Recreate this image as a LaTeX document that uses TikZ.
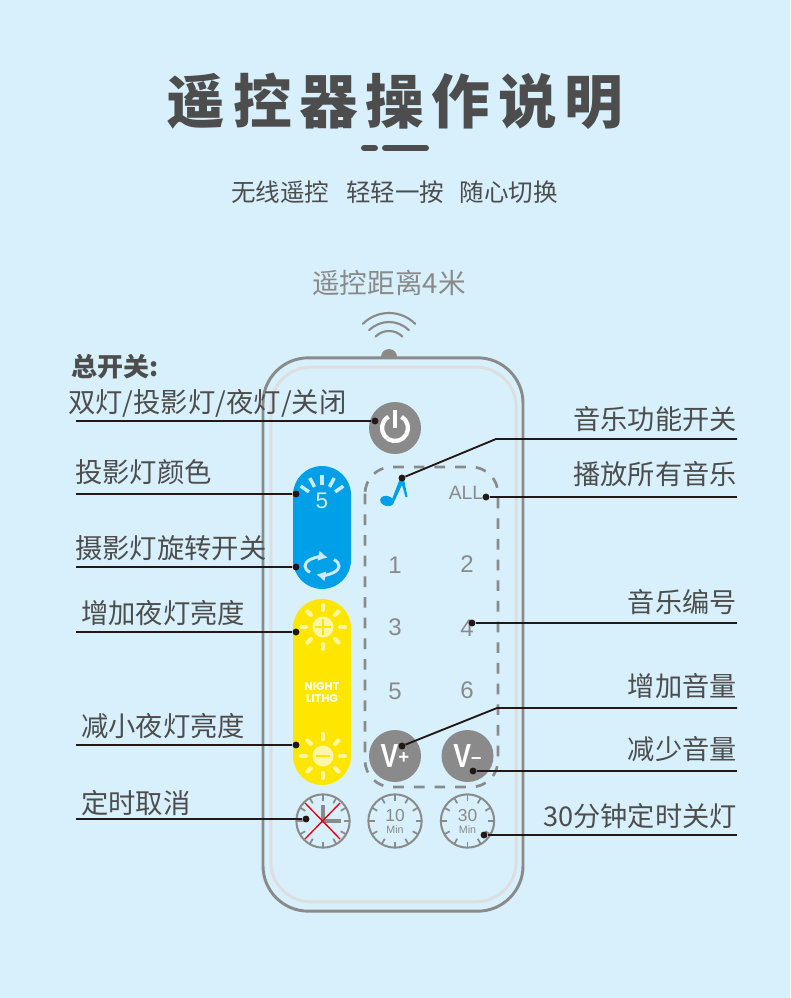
\documentclass[tikz,border=0pt]{standalone}
\usepackage{xcolor}
\usepackage{graphicx}
\usepackage{fontspec}
\usepackage{tikz}
\usetikzlibrary{arrows.meta}
\setmainfont{Noto Sans CJK SC}
\newfontfamily\numfont{Liberation Sans}
\newfontfamily\nightfont{Poppins}
\definecolor{bgblue}{RGB}{215, 240, 251}
\definecolor{textgray}{RGB}{77, 77, 77}
\definecolor{keygray}{RGB}{138, 138, 138}
\definecolor{innergray}{RGB}{221, 222, 224}
\definecolor{lineblack}{RGB}{35, 24, 21}
\definecolor{pillblue}{RGB}{0, 160, 233}
\definecolor{pillyellow}{RGB}{255, 230, 0}
\definecolor{rayblue}{RGB}{205, 236, 250}
\definecolor{rayyellow}{RGB}{255, 246, 170}
\definecolor{crossred}{RGB}{230, 0, 18}
\tikzset{
  leftlabel/.style={anchor=west, text=textgray, inner sep=0pt, font=\fontsize{20.5}{22}\selectfont},
  rightlabel/.style={anchor=east, text=textgray, inner sep=0pt, font=\fontsize{20.4}{22}\selectfont},
  callout/.style={draw=lineblack, line width=1.4pt},
  calldot/.style={circle, fill=lineblack, inner sep=0pt, minimum size=5.2pt},
  roundkey/.style={circle, fill=keygray, text=white, inner sep=0pt, minimum size=39pt},
  musicnum/.style={text=keygray, inner sep=0pt, font=\numfont\fontsize{18}{19}\selectfont},
  timerkey/.style={circle, draw=keygray, line width=1.5pt, inner sep=0pt, minimum size=40pt},
  timertext/.style={text=keygray, inner sep=0pt, align=center, text height=0.72em, text depth=0pt},
  sunray/.style={line width=3pt, line cap=round}
}
\begin{document}
\begin{tikzpicture}[x=0.75pt, y=-0.75pt]
  \useasboundingbox[fill=bgblue] (0,0) rectangle (790,998);

  % heading
  \node[text=textgray, inner sep=0pt, font=\bfseries\fontsize{44}{46}\selectfont] (heading) at (395,101)
    {\addfontfeature{LetterSpace=13}遥控器操作说明};
  \draw[textgray, line width=4.5pt, line cap=round] (364,148) -- (375,148);
  \draw[textgray, line width=4.5pt, line cap=round] (385,148) -- (426,148);
  \node[text=textgray, inner sep=0pt, font=\fontsize{18.4}{20}\selectfont] (subtitle) at (394.5,192)
    {无线遥控\hspace{0.69em}轻轻一按\hspace{0.62em}随心切换};
  \node[text=keygray, inner sep=0pt, font=\fontsize{20.7}{22}\selectfont] (range) at (389,283) {遥控距离4米};

  % signal
  \foreach \r in {19,28,37}
    \draw[keygray, line width=1.6pt, line cap=round] (389,350) ++(225:\r) arc[start angle=225, end angle=315, radius=\r];
  \fill[keygray] (381,357) arc[start angle=180, end angle=360, radius=8] -- cycle;

  % body
  \node[draw=innergray, line width=2.2pt, rounded corners=30pt, minimum width=184pt, minimum height=401pt,
        inner sep=0pt] (inner) at (393.5,634.5) {};
  \node[draw=keygray, line width=2.2pt, rounded corners=34pt, minimum width=195pt, minimum height=415pt,
        inner sep=0pt] (body) at (393,634.5) {};

  % power key
  \node[roundkey] (power) at (395,428) {};
  \draw[white, line width=3.2pt] (395,428) ++(300:13) arc[start angle=300, end angle=600, radius=13];
  \draw[white, line width=3pt] (395,410) -- (395,428);

  % pills
  \node[fill=pillblue, rounded corners=21.7pt, minimum width=43.5pt, minimum height=92.2pt, inner sep=0pt] (bluepill) at (322,527.5) {};
  \node[fill=pillyellow, rounded corners=21.7pt, minimum width=43.5pt, minimum height=139.5pt, inner sep=0pt] (yellowpill) at (322,692) {};
  \node[text=rayblue, inner sep=0pt, font=\numfont\fontsize{17}{18}\selectfont] (colornum) at (322,501) {5};
  \foreach \a in {215,242,270,298,325}
    \draw[rayblue, line width=2.6pt] (322,501) ++(\a:16) -- ++(\a:10);
  \draw[rayblue, line width=2.2pt, -{Latex[length=7pt,width=8pt]}] (322,566) ++(135:17 and 9) arc[start angle=135, end angle=290, x radius=17, y radius=9];
  \draw[rayblue, line width=2.2pt, -{Latex[length=7pt,width=8pt]}] (322,566) ++(-45:17 and 9) arc[start angle=-45, end angle=110, x radius=17, y radius=9];
  \foreach \cy in {627,756} {
    \fill[rayyellow] (323,\cy) circle (10.5);
    \foreach \a in {0,45,...,315}
      \draw[rayyellow, sunray] (323,\cy) ++(\a:17) -- ++(\a:5);
  }
  \draw[pillyellow, line width=1.5pt] (315,627) -- (331,627) (323,619) -- (323,635);
  \draw[pillyellow, line width=1.8pt] (316,756) -- (330,756);
  \node[text=white, inner sep=0pt, align=center, font=\nightfont\bfseries\fontsize{8.4}{8.4}\selectfont] (night) at (322,692.5) {NIGHT\\LITHG};

  % music zone
  \draw[keygray, line width=2pt, dash pattern=on 8pt off 7.5pt, rounded corners=20pt] (365,467) rectangle (498,787);
  \fill[pillblue, rotate around={-15:(387,501)}] (387,501) ellipse (7 and 5);
  \fill[pillblue] (391,502) -- (400.5,477) -- (403.5,477) -- (407.5,497) -- (405.5,497) -- (402,485) -- (393.5,503) -- cycle;
  \node[text=keygray, inner sep=0pt, font=\numfont\fontsize{14.5}{16}\selectfont] (all) at (466,493) {ALL};
  \node[musicnum] (one) at (395,565) {1};
  \node[musicnum] (two) at (467,564) {2};
  \node[musicnum] (three) at (395,627) {3};
  \node[musicnum] (four) at (467,628) {4};
  \node[musicnum] (five) at (395,691) {5};
  \node[musicnum] (six) at (467,690) {6};
  \node[roundkey, font=\numfont\bfseries] (volup) at (395,756)
    {\scalebox{0.8}[1]{\fontsize{25}{26}\selectfont V}\raisebox{3pt}{\fontsize{14}{14}\selectfont +}};
  \node[roundkey, font=\numfont\bfseries] (voldown) at (467.5,756)
    {\scalebox{0.8}[1]{\fontsize{25}{26}\selectfont V}\raisebox{3pt}{\fontsize{14}{14}\selectfont –}};

  % timers
  \node[timerkey] (cancel) at (323,821) {};
  \node[timerkey] (tenmin) at (395,821) {};
  \node[timerkey] (thirtymin) at (467.5,821) {};
  \foreach \c in {cancel,tenmin,thirtymin}
    \foreach \a in {0,30,...,330}
      \draw[keygray, line width=1.3pt] (\c) ++(\a:26.5) -- ++(\a:-6);
  \draw[keygray, line width=3pt] (323,805) -- (323,821) -- (341,821);
  \draw[crossred, line width=1pt] (305,803) -- (340,839) (305,839) -- (340,803);
  \node[timertext, font=\numfont\fontsize{13}{13}\selectfont] (tentext) at (395,817) {10};
  \node[timertext, font=\numfont\fontsize{8}{8}\selectfont] (tenunit) at (395,829) {Min};
  \node[timertext, font=\numfont\fontsize{13}{13}\selectfont] (thirtytext) at (467.5,817) {30};
  \node[timertext, font=\numfont\fontsize{8}{8}\selectfont] (thirtyunit) at (467.5,829) {Min};

  % left labels
  \node[text=textgray, inner sep=0pt, anchor=west, font=\bfseries\fontsize{19.5}{20}\selectfont] (mainswitch) at (71,367) {总开关:};
  \node[leftlabel] (modes) at (68,403) {双灯/投影灯/夜灯/关闭};
  \node[leftlabel] (lampcolor) at (75,472) {投影灯颜色};
  \node[leftlabel] (lamprotate) at (75,548) {摄影灯旋转开关};
  \node[leftlabel] (brighter) at (81,613) {增加夜灯亮度};
  \node[leftlabel] (dimmer) at (81,726) {减小夜灯亮度};
  \node[leftlabel] (cancellabel) at (81,803) {定时取消};

  % right labels
  \node[rightlabel] (musicswitch) at (737,419) {音乐功能开关};
  \node[rightlabel] (playall) at (737,474) {播放所有音乐};
  \node[rightlabel] (musicnumber) at (737,602) {音乐编号};
  \node[rightlabel] (louder) at (737,686) {增加音量};
  \node[rightlabel] (quieter) at (737,749) {减少音量};
  \node[rightlabel] (thirtyoff) at (737,816) {30分钟定时关灯};

  % connectors
  \foreach \nm/\x/\y in {modes/375/421, lampcolor/296/494, lamprotate/296/567, brighter/296/632, dimmer/296/745, cancellabel/306/819} {
    \node[calldot] (dot\nm) at (\x,\y) {};
    \coordinate (end\nm) at (76,\y);
    \draw[callout] (end\nm) -- (dot\nm);
  }
  \foreach \nm/\x/\y in {playall/486/497, musicnumber/472/623, quieter/473/771, thirtyoff/484/835} {
    \node[calldot] (dot\nm) at (\x,\y) {};
    \coordinate (end\nm) at (737,\y);
    \draw[callout] (end\nm) -- (dot\nm);
  }
  \node[calldot] (dotmusicswitch) at (402,478) {};
  \coordinate (endmusicswitch) at (737,439);
  \draw[callout] (endmusicswitch) -- (496,439) -- (dotmusicswitch);
  \node[calldot] (dotlouder) at (402,746) {};
  \coordinate (endlouder) at (737,708);
  \draw[callout] (endlouder) -- (497,708) -- (dotlouder);
\end{tikzpicture}
\end{document}
